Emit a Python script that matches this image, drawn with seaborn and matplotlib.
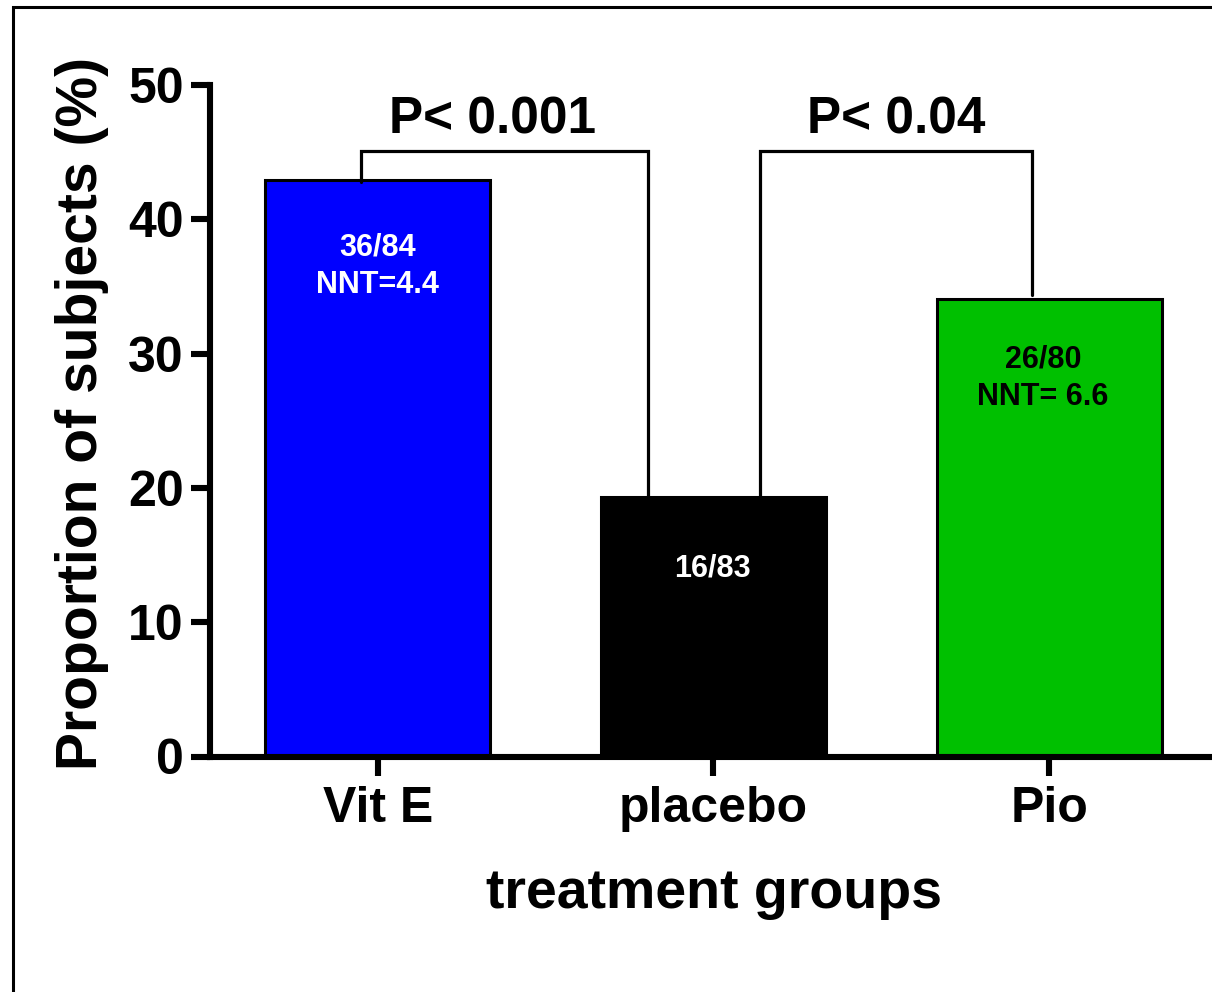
import matplotlib
matplotlib.use("Agg")
import matplotlib.pyplot as plt
from matplotlib.patches import Rectangle
import seaborn as sns
import pandas as pd

# ---- data ----
categories = ["Vit E", "placebo", "Pio"]
proportions = [42.9, 19.3, 34.1]
bar_colors = ["#0000FF", "#000000", "#00C000"]
bar_label_lines = [["36/84", "NNT=4.4"], ["16/83"], ["26/80", "NNT= 6.6"]]
bar_label_colors = ["white", "white", "black"]
p_labels = ["P< 0.001", "P< 0.04"]
y_ticks = [0, 10, 20, 30, 40, 50]

sns.set_theme(style="ticks")
plt.rcParams["font.family"] = ["Liberation Sans", "DejaVu Sans"]
plt.rcParams["font.weight"] = "bold"
for k in ["text.color", "axes.labelcolor", "xtick.color", "ytick.color",
          "xtick.labelcolor", "ytick.labelcolor"]:
    plt.rcParams[k] = "black"

W, H = 1212, 992
fig = plt.figure(figsize=(W / 100, H / 100), dpi=100)
ax = fig.add_axes([210 / W, (H - 756.5) / H, (1217 - 210) / W, (756.5 - 85) / H])

df = pd.DataFrame({"group": categories, "value": proportions})
sns.barplot(data=df, x="group", y="value", hue="group", palette=bar_colors,
            order=categories, hue_order=categories, legend=False,
            width=0.67, edgecolor="black", linewidth=2.2, saturation=1, ax=ax)

ax.set_xlim(-0.5, 2.5)
ax.set_ylim(0, 50)
ax.set_yticks(y_ticks)
ax.set_yticklabels([str(t) for t in y_ticks])
sns.despine(ax=ax)
for s in ["left", "bottom"]:
    ax.spines[s].set_linewidth(4.4)
    ax.spines[s].set_color("black")
ax.tick_params(axis="both", which="major", length=14, width=4.4, color="black",
               labelcolor="black", direction="out")
ax.tick_params(axis="y", labelsize=36, pad=5)
ax.tick_params(axis="x", labelsize=36, pad=7)
for lab in ax.get_xticklabels() + ax.get_yticklabels():
    lab.set_fontweight("bold")

ax.set_xlabel("treatment groups", fontsize=40, fontweight="bold", labelpad=26,
              color="black")
ax.set_ylabel("Proportion of subjects (%)", fontsize=41, fontweight="bold",
              labelpad=14, color="black")
ax.yaxis.label.set_y(0.5104)

# bar annotations
label_y = [[37.27, 34.5], [13.44], [28.93, 26.17]]
label_x = [0.0, 0.997, 1.982]
for i, lines in enumerate(bar_label_lines):
    for j, txt in enumerate(lines):
        ax.text(label_x[i], label_y[i][j], txt, ha="center", va="baseline",
                fontsize=22, fontweight="bold", color=bar_label_colors[i])

# significance brackets
lw_b = 2.3
ax.plot([-0.05, -0.05, 0.805, 0.805], [42.8, 45.1, 45.1, 18.95], color="black",
        lw=lw_b, clip_on=False, solid_joinstyle="miter", zorder=3)
ax.plot([1.14, 1.14, 1.95, 1.95], [18.95, 45.1, 45.1, 34.4], color="black",
        lw=lw_b, clip_on=False, solid_joinstyle="miter", zorder=3)
ax.text(0.343, 46.4, p_labels[0], ha="center", va="baseline", fontsize=37,
        fontweight="bold", color="black")
ax.text(1.545, 46.4, p_labels[1], ha="center", va="baseline", fontsize=37,
        fontweight="bold", color="black")

# figure frame
fig.patches.append(Rectangle((13 / W, -0.1), 1.2, 1 - 7 / H + 0.1,
                             transform=fig.transFigure, fill=False,
                             edgecolor="black", linewidth=2.2))

fig.savefig("out.png", dpi=100)
